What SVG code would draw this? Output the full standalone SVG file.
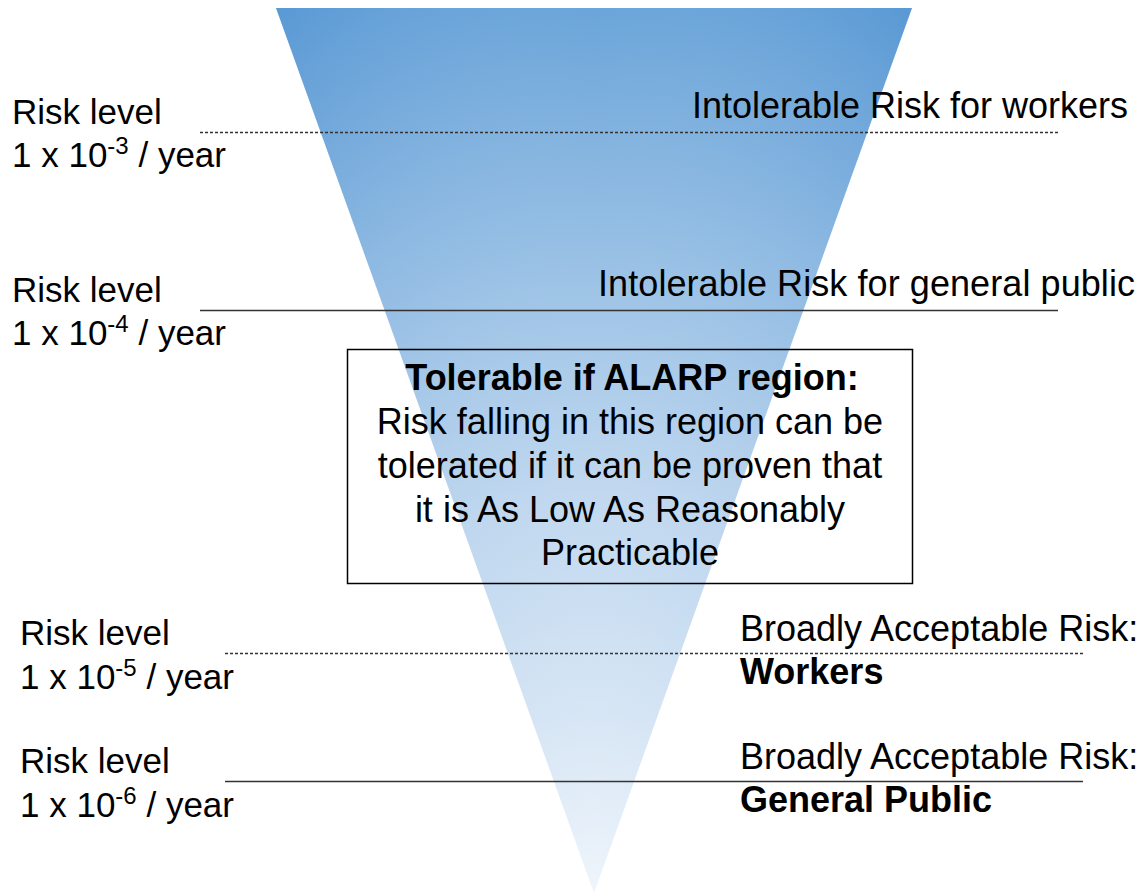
<svg xmlns="http://www.w3.org/2000/svg" width="1145" height="894" viewBox="0 0 1145 894">
  <defs>
    <linearGradient id="funnelFill" x1="0" y1="8" x2="0" y2="894" gradientUnits="userSpaceOnUse">
      <stop offset="0" stop-color="#5e9dd6"/>
      <stop offset="0.33" stop-color="#98c0e5"/>
      <stop offset="0.55" stop-color="#bcd5ee"/>
      <stop offset="0.8" stop-color="#d4e4f4"/>
      <stop offset="1" stop-color="#eef4fb"/>
    </linearGradient>
    <linearGradient id="funnelSheen" x1="276" y1="0" x2="912" y2="0" gradientUnits="userSpaceOnUse">
      <stop offset="0" stop-color="#4a8ccf" stop-opacity="0.25"/>
      <stop offset="0.5" stop-color="#ffffff" stop-opacity="0.08"/>
      <stop offset="1" stop-color="#4a8ccf" stop-opacity="0.25"/>
    </linearGradient>
    <style>
      text { font-family: "Liberation Sans", Arial, sans-serif; font-size: 36px; fill: #000; }
      .lbl { font-size: 35px; }
      .b { font-weight: bold; }
      .sup { font-size: 24px; }
      .mid { text-anchor: middle; }
      .rule { stroke: #333; stroke-width: 1.3; fill: none; }
      .dash { stroke-dasharray: 3 2; }
    </style>
  </defs>

  <!-- inverted risk funnel -->
  <g id="funnel">
    <polygon points="276,8 912,8 594,893" fill="url(#funnelFill)"/>
    <polygon points="276,8 912,8 594,893" fill="url(#funnelSheen)"/>
  </g>

  <!-- risk threshold lines -->
  <g id="connectors">
    <line class="rule dash" x1="200" y1="132.5" x2="1060" y2="132.5"/>
    <line class="rule" x1="200" y1="310.5" x2="1058" y2="310.5"/>
    <line class="rule dash" x1="225" y1="653.5" x2="1085" y2="653.5"/>
    <line class="rule" x1="225" y1="781.5" x2="1083" y2="781.5"/>
  </g>

  <!-- threshold 1e-3 -->
  <g id="level-1e-3">
    <text class="lbl" x="12" y="124">Risk level</text>
    <text class="lbl" x="12" y="167">1 x 10<tspan class="sup" dy="-13">-3</tspan><tspan dy="13"> / year</tspan></text>
    <text x="692" y="118" textLength="436" lengthAdjust="spacing">Intolerable Risk for workers</text>
  </g>

  <!-- threshold 1e-4 -->
  <g id="level-1e-4">
    <text class="lbl" x="12" y="302">Risk level</text>
    <text class="lbl" x="12" y="345">1 x 10<tspan class="sup" dy="-13">-4</tspan><tspan dy="13"> / year</tspan></text>
    <text x="598" y="296" textLength="537" lengthAdjust="spacing">Intolerable Risk for general public</text>
  </g>

  <!-- ALARP region description -->
  <g id="alarp-box">
    <rect x="347.5" y="349.5" width="565" height="234" fill="none" stroke="#000" stroke-width="1.5"/>
    <text class="mid b" x="632" y="390">Tolerable if ALARP region:</text>
    <text class="mid" x="630" y="434">Risk falling in this region can be</text>
    <text class="mid" x="630" y="478">tolerated if it can be proven that</text>
    <text class="mid" x="630" y="522">it is As Low As Reasonably</text>
    <text class="mid" x="630" y="565">Practicable</text>
  </g>

  <!-- threshold 1e-5 -->
  <g id="level-1e-5">
    <text class="lbl" x="20" y="645">Risk level</text>
    <text class="lbl" x="20" y="689">1 x 10<tspan class="sup" dy="-13">-5</tspan><tspan dy="13"> / year</tspan></text>
    <text x="740" y="641">Broadly Acceptable Risk:</text>
    <text class="b" x="740" y="684">Workers</text>
  </g>

  <!-- threshold 1e-6 -->
  <g id="level-1e-6">
    <text class="lbl" x="20" y="773">Risk level</text>
    <text class="lbl" x="20" y="817">1 x 10<tspan class="sup" dy="-13">-6</tspan><tspan dy="13"> / year</tspan></text>
    <text x="740" y="769">Broadly Acceptable Risk:</text>
    <text class="b" x="740" y="812">General Public</text>
  </g>
</svg>
